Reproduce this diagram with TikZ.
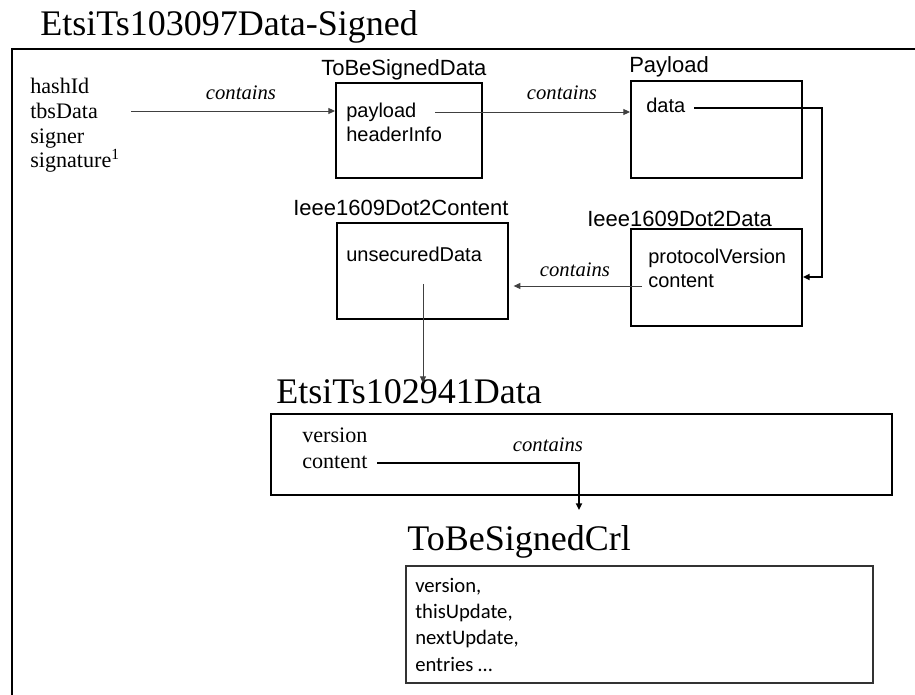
\documentclass[tikz,border=0pt]{standalone}
\usepackage{fontspec}
\setmainfont{Liberation Serif}
\newfontfamily\sansf{Liberation Sans}
\newfontfamily\crlf{Carlito}
\usetikzlibrary{arrows.meta,fit}
\begin{document}
\begin{tikzpicture}[x=0.75pt,y=-0.75pt,
 bigser/.style={font=\fontsize{27}{30}\selectfont, inner sep=0, anchor=base west},
 ser/.style={font=\fontsize{16.6}{19}\selectfont, inner sep=0, anchor=base west},
 lbl/.style={font=\sansf\fontsize{16.5}{19}\selectfont, inner sep=0, anchor=base west},
 fld/.style={font=\sansf\fontsize{15}{18}\selectfont, inner sep=0, anchor=base west},
 crl/.style={font=\crlf\fontsize{15.5}{18}\selectfont, inner sep=0, anchor=base west},
 ctn/.style={font=\itshape\fontsize{15.5}{18}\selectfont, inner sep=0, anchor=base},
 box/.style={draw, line width=1.5pt, inner sep=0},
 thinbox/.style={draw=black!80, line width=0.8pt, inner sep=0},
 thinarr/.style={draw=black!75, line width=0.7pt, -{Triangle[length=5pt,width=4.5pt]}},
 thickarr/.style={line width=1.5pt, -{Triangle[length=5pt,width=4.5pt]}},
]
\useasboundingbox (0,0) rectangle (915,695);
\fill[white] (0,0) rectangle (915,695);
% outer frame (only left and top edges visible)
\draw[line width=1.5pt] (12,695) -- (12,49) -- (915,49);

% title
\node[bigser] (title) at (40,36) {EtsiTs103097Data-Signed};

% left fields
\node[ser] (hash) at (30,94) {hashId};
\node[ser] (tbsd) at (30,119) {tbsData};
\node[ser] (sgnr) at (30,144) {signer};
\node[ser] (sigt) at (30,168) {signature\textsuperscript{1}};

% ToBeSignedData
\node[box, fit={(336,83) (482,178)}] (tbs) {};
\node[lbl] (tbsl) at (321,76) {ToBeSignedData};
\node[fld] (pay) at (346,118) {payload};
\node[fld] (hdr) at (346,142) {headerInfo};

% Payload
\node[box, fit={(631,81) (802,178)}] (pl) {};
\node[lbl] (pll) at (629,73) {Payload};
\node[fld] (dat) at (646,113) {data};

% Ieee1609Dot2Data
\node[box, fit={(631,229) (802,326)}] (d2) {};
\node[lbl] (d2l) at (587,227) {Ieee1609Dot2Data};
\node[fld] (pv) at (648,264) {protocolVersion};
\node[fld] (cnt) at (648,288) {content};

% Ieee1609Dot2Content
\node[box, fit={(337,223) (508,319)}] (c2) {};
\node[lbl] (c2l) at (293,216) {Ieee1609Dot2Content};
\node[fld] (uns) at (346,262) {unsecuredData};

% EtsiTs102941Data
\node[bigser] (et) at (276,404) {EtsiTs102941Data};
\node[box, fit={(271,414) (892,495)}] (etb) {};
\node[ser] (ver) at (302,443) {version};
\node[ser] (ec) at (302,469) {content};

% ToBeSignedCrl
\node[bigser] (crlt) at (407,551) {ToBeSignedCrl};
\node[thinbox, fit={(406,566) (873,683)}] (crlb) {};
\node[crl] (c1) at (415,592) {version,};
\node[crl] (c2t) at (415,618) {thisUpdate,};
\node[crl] (c3) at (415,644) {nextUpdate,};
\node[crl] (c4) at (415,671) {entries …};

% connector points
\coordinate (a1s) at (131,111);
\coordinate (a2s) at (435,112);
\coordinate (a3s) at (642,286);
\coordinate (a4s) at (423,284);
\coordinate (a4e) at (423,383);
\coordinate (k1s) at (694,108);
\coordinate (k1c) at (822,277);
\coordinate (k2s) at (377,463);
\coordinate (k2e) at (579,510);

% connectors
\draw[thinarr] (a1s) -- (a1s -| tbs.west);
\node[ctn] (l1) at (241,100) {contains};
\draw[thinarr] (a2s) -- (a2s -| pl.west);
\node[ctn] (l2) at (562,100) {contains};
\draw[thickarr] (k1s) -| (k1c) -- (k1c -| d2.east);
\draw[thinarr, shorten >=3.5pt] (a3s) -- (a3s -| c2.east);
\node[ctn] (l3) at (575,277) {contains};
\draw[thinarr] (a4s) -- (a4e);
\draw[thickarr] (k2s) -| (k2e);
\node[ctn] (l4) at (548,452) {contains};
\end{tikzpicture}
\end{document}
